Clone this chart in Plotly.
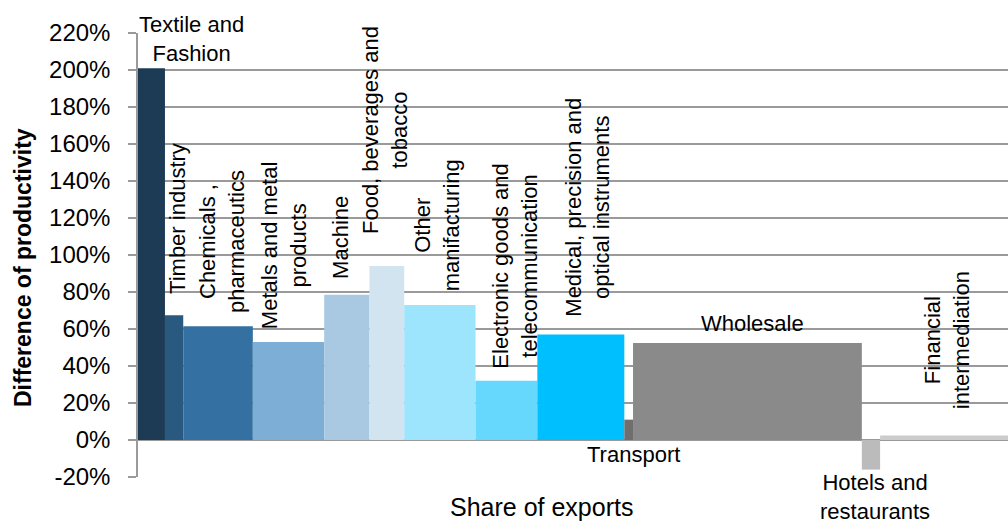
import plotly.graph_objects as go

# ---- data ----
sectors = ["Textile and Fashion", "Timber industry", "Chemicals , pharmaceutics",
           "Metals and metal products", "Machine", "Food, beverages and tobacco",
           "Other manifacturing", "Electronic goods and telecommunication",
           "Medical, precision and optical instruments", "Transport", "Wholesale",
           "Hotels and restaurants", "Financial intermediation"]
share_of_exports = [3.1, 2.1, 8.0, 8.2, 5.2, 4.0, 8.2, 7.1, 10.0, 1.0, 26.3, 2.1, 14.7]
productivity_diff = [201, 67.5, 61.5, 53, 78.5, 94, 73, 32, 57, 11, 52.5, -16, 2.5]
y_ticks = [-20, 0, 20, 40, 60, 80, 100, 120, 140, 160, 180, 200, 220]
y_tick_labels = [f"{v}%" for v in y_ticks]

# ---- styles ----
colors = ["#1e3b56", "#2a5980", "#3470a2", "#7daed5", "#a9c9e3", "#d3e4f1",
          "#9de5fd", "#66d8fe", "#00bfff", "#6f6f6f", "#8a8a8a", "#bbbbbb", "#cccccc"]
FONT = "Liberation Sans, Arial, sans-serif"

# bar positions from cumulative shares
lefts = []
acc = 0.0
for s in share_of_exports:
    lefts.append(acc)
    acc += s
centers = [l + s / 2 for l, s in zip(lefts, share_of_exports)]

fig = go.Figure()
fig.add_trace(go.Bar(
    x=centers, y=productivity_diff, width=share_of_exports,
    marker=dict(color=colors, line=dict(width=0)),
    showlegend=False, hoverinfo="skip",
))

# label layout: (text, x, y, angle)
labels = [
    ("Textile and<br>Fashion", 6.1, 217.0, 0),
    ("Timber industry", 4.6, 119.5, -90),
    ("Chemicals ,<br>pharmaceutics", 9.66, 107, -90),
    ("Metals and metal<br>products", 16.8, 105.4, -90),
    ("Machine", 23.2, 109.7, -90),
    ("Food, beverages and<br>tobacco", 28.4, 167.6, -90),
    ("Other<br>manifacturing", 34.4, 116.2, -90),
    ("Electronic goods and<br>telecommunication", 43.4, 94, -90),
    ("Medical, precision and<br>optical instruments", 51.7, 126, -90),
    ("Wholesale", 70.6, 63.2, 0),
    ("Transport", 57.0, -8.1, 0),
    ("Financial<br>intermediation", 93.0, 54, -90),
]
for text, x, y, ang in labels:
    fig.add_annotation(text=text, x=x, y=y, xref="x", yref="y", textangle=ang,
                       showarrow=False, xanchor="center", yanchor="middle",
                       align="center", font=dict(family=FONT, size=22, color="black"))

fig.add_annotation(text="Hotels and<br>restaurants", x=(875 - 138) / 870, y=(477 - 497) / 444,
                   xref="paper", yref="paper", showarrow=False, xanchor="center",
                   yanchor="middle", align="center",
                   font=dict(family=FONT, size=22, color="black"))
fig.add_annotation(text="Share of exports", x=(541 - 138) / 870, y=(477 - 507) / 444,
                   xref="paper", yref="paper", showarrow=False, xanchor="center",
                   yanchor="middle", font=dict(family=FONT, size=25, color="black"))
fig.add_annotation(text="<b>Difference of productivity</b>", x=(23 - 138) / 870,
                   y=(477 - 268) / 444,
                   xref="paper", yref="paper", showarrow=False, textangle=-90,
                   xanchor="center", yanchor="middle",
                   font=dict(family=FONT, size=23, color="black"))

fig.update_layout(
    width=1008, height=524,
    margin=dict(l=138, r=0, t=33, b=47),
    paper_bgcolor="white", plot_bgcolor="white",
    font=dict(family=FONT, color="black"),
    xaxis=dict(range=[0, 100], showgrid=False, zeroline=False, showline=False,
               showticklabels=False, ticks=""),
    yaxis=dict(range=[-20, 220], tickvals=y_ticks, ticktext=y_tick_labels,
               showgrid=True, gridcolor="#9a9a9a", gridwidth=1.5,
               zeroline=False, showline=True, linecolor="#9a9a9a", linewidth=1.5,
               ticks="outside", ticklen=8, tickcolor="#9a9a9a", tickwidth=1.5,
               ticklabelstandoff=13,
               tickfont=dict(family=FONT, size=24, color="black")),
)

fig.write_html("out.html")
